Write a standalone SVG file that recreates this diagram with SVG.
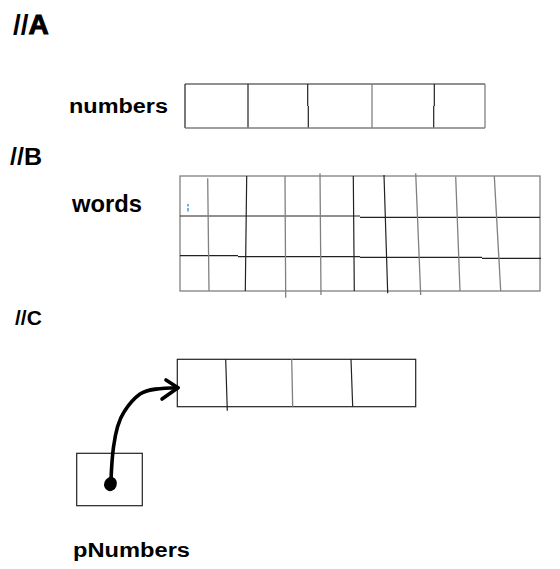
<svg xmlns="http://www.w3.org/2000/svg" width="560" height="569" viewBox="0 0 560 569">
<style>
.lbl{font-family:"Liberation Sans",Arial,sans-serif;font-weight:bold;fill:#000}
.g{stroke:#808080;stroke-width:1.3;fill:none}
.k{stroke:#222;stroke-width:1.2;fill:none}
.pen{stroke:#000;stroke-width:3.6;fill:none;stroke-linecap:round;stroke-linejoin:round}
</style>
<rect width="560" height="569" fill="#fff"/>
<g id="headings">
<text class="lbl" x="13" y="34" font-size="28">//<tspan stroke="#000" stroke-width="1">A</tspan></text>
<text class="lbl" x="10" y="165" font-size="23" textLength="32" lengthAdjust="spacingAndGlyphs">//B</text>
<text class="lbl" x="15" y="325" font-size="21">//C</text>
</g>
<g id="numbers">
<text class="lbl" x="69" y="112.5" font-size="19.5" textLength="99" lengthAdjust="spacingAndGlyphs">numbers</text>
<path class="k" d="M185,84H485M185,84V128M248,84V128M307.7,84V106M308.3,106V128M434.3,84V106M433.7,106V128"/>
<path class="g" d="M185,128H485M485,84V128M372,84V128"/>
</g>
<g id="words">
<text class="lbl" x="72" y="212" font-size="23" textLength="70" lengthAdjust="spacingAndGlyphs">words</text>
<rect class="g" x="180" y="176" width="360" height="115"/>
<path class="k" d="M180,216H360M360,217.3H540M180,255.7H238M238,256.7H360M360,257.3H482M482,258.3H541"/>
<path class="g" d="M207.7,178.3L209,291M285,176L285.7,297.7M320,173.3L321,295M415.7,173.3L420.7,295M455.7,176.7L460,291M494.3,176L500.7,291"/>
<path class="k" d="M246.7,176L245.3,291M353.3,176L354.3,291M384,175L387.7,293.3"/>
<path d="M188,204V206.5M188,208V211.5" stroke="#1e7fd8" stroke-width="1.2"/>
</g>
<g id="array-c">
<rect class="k" x="177.3" y="359.3" width="238.4" height="47.4" stroke="#333"/>
<path class="k" d="M225.7,359.3L227.3,410.7M351,359.3L352.7,406.7"/>
<path class="g" d="M291.7,359.3L292.7,406.7"/>
</g>
<g id="pNumbers">
<rect class="k" x="76.7" y="453.3" width="65.6" height="52.4" stroke="#333"/>
<text class="lbl" x="73" y="557" font-size="19.5" textLength="117" lengthAdjust="spacingAndGlyphs">pNumbers</text>
</g>
<g id="connectors">
<path class="pen" d="M111,480C111.5,468 112,458 113.5,447C115.5,432 118,421 124,412C129,404 133,399 140,394C148,389 160,388 178,387.7"/>
<path class="pen" d="M166,380L178,387.7L162,399"/>
<ellipse cx="110.5" cy="484" rx="6.3" ry="7.3" transform="rotate(20 110.5 484)" fill="#000"/>
</g>
</svg>
